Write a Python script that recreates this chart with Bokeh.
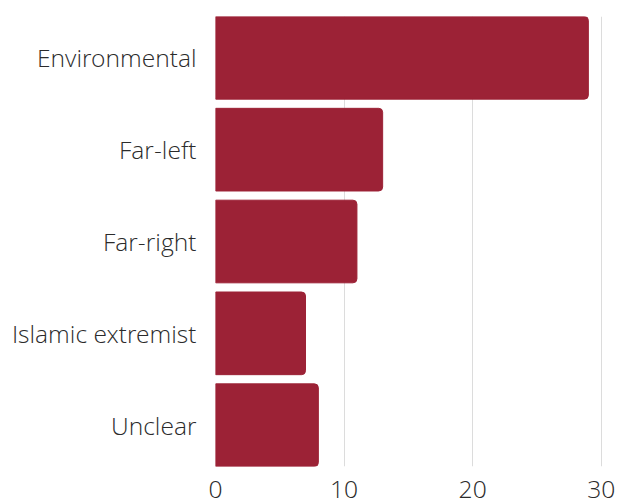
from bokeh.plotting import figure
from bokeh.models import FixedTicker, Range1d
from bokeh.embed import file_html
from bokeh.resources import INLINE

categories = ["Environmental", "Far-left", "Far-right", "Islamic extremist", "Unclear"]
values = [29, 13, 11, 7, 8]
x_ticks = [0, 10, 20, 30]

n = len(categories)
positions = [n - 1 - i for i in range(n)]

p = figure(frame_width=387, frame_height=450, output_backend="svg", toolbar_location=None,
           x_range=Range1d(0, 30.1), y_range=Range1d(-0.45, n - 0.55),
           min_border_left=215, min_border_right=16, min_border_top=16, min_border_bottom=38)

p.hbar(y=positions, right=values, left=0, height=0.9, color="#9c2236",
       border_radius=(0, 4, 4, 0))

p.outline_line_color = None
p.ygrid.grid_line_color = None
p.xgrid.grid_line_color = "#dcdcdc"
p.xgrid.ticker = FixedTicker(ticks=x_ticks)
p.xaxis.ticker = FixedTicker(ticks=x_ticks)
p.yaxis.ticker = FixedTicker(ticks=positions)
p.yaxis.major_label_overrides = {pos: c for pos, c in zip(positions, categories)}

for ax in (p.xaxis, p.yaxis):
    ax.axis_line_color = None
    ax.major_tick_line_color = None
    ax.minor_tick_line_color = None
    ax.major_label_text_font = "Open Sans Light"
    ax.major_label_text_font_size = "24.6px"
    ax.major_label_text_color = "#2b2b2b"
    ax.major_tick_out = 0
    ax.major_tick_in = 0

p.yaxis.major_label_standoff = 19
p.xaxis.major_label_standoff = 14

open("out.html", "w").write(file_html(p, INLINE))
